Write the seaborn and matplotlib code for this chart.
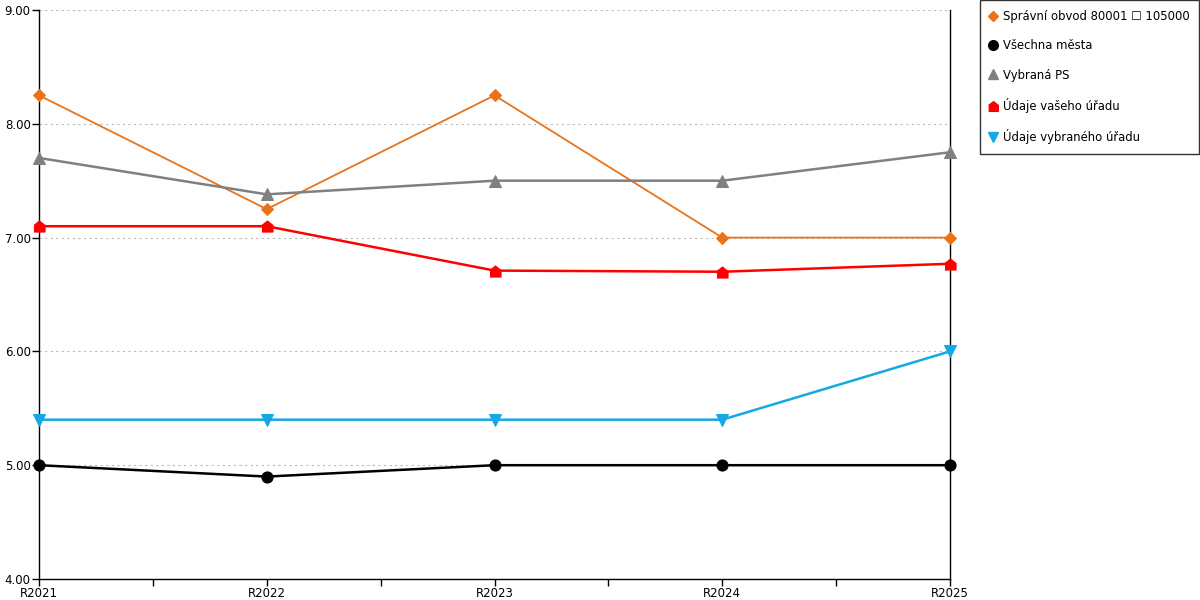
import pandas as pd
import seaborn as sns
from matplotlib import pyplot as plt
from matplotlib.lines import Line2D
from matplotlib.ticker import MultipleLocator

sns.set_style("white")
plt.rcParams["font.family"] = ["DejaVu Sans"]
plt.rcParams["text.color"] = "black"
plt.rcParams["xtick.color"] = "black"
plt.rcParams["ytick.color"] = "black"

years = ["R2021", "R2022", "R2023", "R2024", "R2025"]
spravni_obvod = [8.25, 7.25, 8.25, 7.00, 7.00]
vsechna_mesta = [5.00, 4.90, 5.00, 5.00, 5.00]
vybrana_ps = [7.70, 7.38, 7.50, 7.50, 7.75]
vas_urad = [7.10, 7.10, 6.71, 6.70, 6.77]
vybrany_urad = [5.40, 5.40, 5.40, 5.40, 6.00]

names = ["Správní obvod 80001 ☐ 105000", "Všechna města", "Vybraná PS",
         "Údaje vašeho úřadu", "Údaje vybraného úřadu"]
house = [(-1, -1), (1, -1), (1, 0.2), (0, 1), (-1, 0.2)]
styles = [
    dict(color="#E8731A", marker="D", lw=1.3, ms=6),
    dict(color="#000000", marker="o", lw=1.8, ms=8),
    dict(color="#808080", marker="^", lw=1.8, ms=8),
    dict(color="#FF0000", marker=house, lw=1.8, ms=8),
    dict(color="#14A9E4", marker="v", lw=1.8, ms=8),
]
series = [spravni_obvod, vsechna_mesta, vybrana_ps, vas_urad, vybrany_urad]

fig = plt.figure(figsize=(12, 6), dpi=100)
ax = fig.add_axes([39 / 1200, 21 / 600, 911 / 1200, 569 / 600])

# draw bottom-most first so orange ends up on top
order = [1, 4, 3, 2, 0]
for i in order:
    df = pd.DataFrame({"rok": years, "hodnota": series[i]})
    st = styles[i]
    sns.lineplot(data=df, x="rok", y="hodnota", ax=ax, sort=False,
                 color=st["color"], marker=st["marker"], linewidth=st["lw"],
                 markersize=st["ms"], markeredgecolor=st["color"], zorder=3 + i,
                 clip_on=False)

ax.set_xlim(0, 4)
ax.set_ylim(4, 9)
ax.set_xlabel("")
ax.set_ylabel("")
ax.yaxis.set_major_locator(MultipleLocator(1))
ax.yaxis.set_major_formatter(plt.FuncFormatter(lambda v, p: f"{v:.2f}"))
ax.xaxis.set_minor_locator(MultipleLocator(0.5))
ax.grid(axis="y", color="#bbbbbb", linestyle=(0, (2, 3)), linewidth=0.8)
ax.grid(axis="x", visible=False)
for side in ["left", "bottom", "right"]:
    ax.spines[side].set_color("black")
    ax.spines[side].set_linewidth(1)
ax.spines["top"].set_visible(False)
ax.tick_params(axis="both", which="both", direction="out", length=5,
               width=1, color="black", labelsize=8.5, pad=1,
               bottom=True, left=True)
ax.tick_params(axis="x", which="minor", length=5)

handles = [Line2D([], [], linestyle="none", marker=st["marker"], color=st["color"],
                  markersize=7 if st["marker"] != "D" else 5.5)
           for st in styles]
leg = fig.legend(handles, names, loc="upper left",
                 bbox_to_anchor=(980 / 1200, 1.0), frameon=True, fontsize=8.4,
                 handlelength=0.6, handletextpad=0.5, labelspacing=1.4,
                 borderpad=0.85, borderaxespad=0, fancybox=False)
leg.get_frame().set_edgecolor("black")
leg.get_frame().set_linewidth(1)

fig.savefig("out.png", dpi=100)
